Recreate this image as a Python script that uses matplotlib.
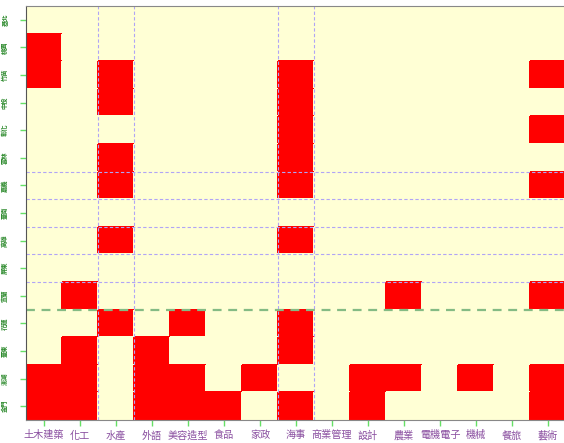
import numpy as np
import matplotlib.pyplot as plt
from matplotlib.colors import ListedColormap

# Regiones (filas, de arriba hacia abajo) y grupos (columnas)
regiones = ['基北', '桃園', '竹苗', '中投', '彰化', '雲林', '嘉義', '臺南',
            '高雄', '屏東', '宜蘭', '花蓮', '臺東', '澎湖', '金門']
grupos = ['土木建築', '化工', '水產', '外語', '美容造型', '食品', '家政', '海事',
          '商業管理', '設計', '農業', '電機電子', '機械', '餐旅', '藝術']

# 1 = marcado, 0 = sin marca (una fila por región)
marcas = [
    [0, 0, 0, 0, 0, 0, 0, 0, 0, 0, 0, 0, 0, 0, 0],
    [1, 0, 0, 0, 0, 0, 0, 0, 0, 0, 0, 0, 0, 0, 0],
    [1, 0, 1, 0, 0, 0, 0, 1, 0, 0, 0, 0, 0, 0, 1],
    [0, 0, 1, 0, 0, 0, 0, 1, 0, 0, 0, 0, 0, 0, 0],
    [0, 0, 0, 0, 0, 0, 0, 1, 0, 0, 0, 0, 0, 0, 1],
    [0, 0, 1, 0, 0, 0, 0, 1, 0, 0, 0, 0, 0, 0, 0],
    [0, 0, 1, 0, 0, 0, 0, 1, 0, 0, 0, 0, 0, 0, 1],
    [0, 0, 0, 0, 0, 0, 0, 0, 0, 0, 0, 0, 0, 0, 0],
    [0, 0, 1, 0, 0, 0, 0, 1, 0, 0, 0, 0, 0, 0, 0],
    [0, 0, 0, 0, 0, 0, 0, 0, 0, 0, 0, 0, 0, 0, 0],
    [0, 1, 0, 0, 0, 0, 0, 0, 0, 0, 1, 0, 0, 0, 1],
    [0, 0, 1, 0, 1, 0, 0, 1, 0, 0, 0, 0, 0, 0, 0],
    [0, 1, 0, 1, 0, 0, 0, 1, 0, 0, 0, 0, 0, 0, 0],
    [1, 1, 0, 1, 1, 0, 1, 0, 0, 1, 1, 0, 1, 0, 1],
    [1, 1, 0, 1, 1, 1, 0, 1, 0, 1, 0, 0, 0, 0, 1],
]

# Columnas y filas resaltadas con líneas punteadas
grupos_destacados = ['水產', '海事']
regiones_destacadas = ['嘉義', '臺南', '高雄', '屏東']
corte = '花蓮'

plt.rcParams['font.family'] = ['Noto Sans CJK TC', 'DejaVu Sans']

datos = np.array(marcas)
nf, nc = datos.shape

fig = plt.figure(figsize=(5.64, 4.43), dpi=100)
ax = fig.add_axes([26 / 564, 23 / 443, 540 / 564, 414 / 443])

cmap = ListedColormap(['#ffffd5', '#ff0000'])
ax.pcolormesh(np.arange(nc + 1), np.arange(nf + 1), datos, cmap=cmap,
              vmin=0, vmax=1, edgecolor='face', linewidth=0.3)
ax.set_xlim(0, nc)
ax.set_ylim(nf, 0)

# Líneas de referencia
morado = '#b0a4f6'
for g in grupos_destacados:
    i = grupos.index(g)
    for x in (i, i + 1):
        ax.axvline(x, color=morado, lw=0.8, ls=(0, (3, 2)))
filas = [regiones.index(r) for r in regiones_destacadas]
for y in sorted(set(filas + [f + 1 for f in filas])):
    ax.axhline(y, color=morado, lw=0.8, ls=(0, (3, 2)))
ax.axhline(regiones.index(corte), color='#84bb84', lw=1.6, ls=(0, (4, 3)))

ax.set_xticks(np.arange(nc) + 0.5)
ax.set_xticklabels(grupos, fontsize=7.3, color='#8a4fa0')
ax.set_yticks(np.arange(nf) + 0.5)
ax.set_yticklabels(regiones, fontsize=4.5, color='#2e8b2e', rotation=90,
                   va='center', fontweight='bold')
ax.tick_params(axis='x', length=4, width=1, color='#66e066', pad=3.5)
ax.tick_params(axis='y', length=4, width=1, color='#66e066', pad=9)

for lado in ('top', 'bottom'):
    ax.spines[lado].set_color('#888888')
ax.spines['left'].set_color('#555555')
ax.spines['right'].set_visible(False)

fig.savefig('out.png', dpi=100)
